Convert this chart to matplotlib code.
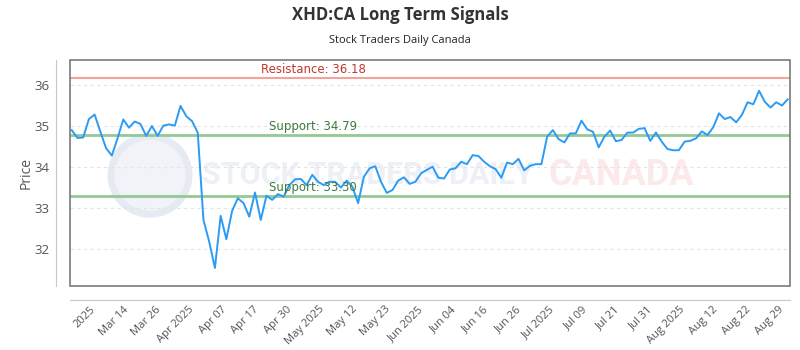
"""
XHD:CA long term signals - price line with support / resistance levels
"""

import numpy as np
import matplotlib
matplotlib.use("Agg")
import matplotlib.pyplot as plt
from matplotlib.patches import Rectangle, Ellipse

plt.rcParams["font.family"] = ["Open Sans", "DejaVu Sans"]

# ==============================
# DATA
# ==============================

prices = [
    34.90, 34.71, 34.72, 35.17, 35.28, 34.86, 34.46, 34.28, 34.70, 35.16,
    34.96, 35.11, 35.05, 34.76, 35.00, 34.76, 35.01, 35.04, 35.01, 35.49,
    35.24, 35.12, 34.84, 32.71, 32.18, 31.54, 32.81, 32.24, 32.93, 33.24,
    33.12, 32.79, 33.38, 32.71, 33.30, 33.20, 33.34, 33.28, 33.56, 33.70,
    33.71, 33.56, 33.81, 33.64, 33.56, 33.64, 33.64, 33.50, 33.67, 33.52,
    33.12, 33.76, 33.97, 34.02, 33.64, 33.37, 33.44, 33.67, 33.75, 33.59,
    33.64, 33.85, 33.93, 34.01, 33.74, 33.72, 33.94, 33.97, 34.13, 34.07,
    34.29, 34.27, 34.13, 34.02, 33.95, 33.74, 34.11, 34.07, 34.20, 33.92,
    34.03, 34.07, 34.07, 34.74, 34.90, 34.68, 34.60, 34.82, 34.82, 35.13,
    34.92, 34.86, 34.48, 34.74, 34.89, 34.63, 34.66, 34.84, 34.84, 34.93,
    34.95, 34.64, 34.84, 34.62, 34.44, 34.41, 34.41, 34.62, 34.64, 34.70,
    34.87, 34.78, 34.97, 35.31, 35.17, 35.22, 35.09, 35.27, 35.58, 35.53,
    35.86, 35.59, 35.45, 35.58, 35.50, 35.65,
]

tick_labels = [
    "2025", "Mar 14", "Mar 26", "Apr 2025", "Apr 07", "Apr 17", "Apr 30",
    "May 2025", "May 12", "May 23", "Jun 2025", "Jun 04", "Jun 16", "Jun 26",
    "Jul 2025", "Jul 09", "Jul 21", "Jul 31", "Aug 2025", "Aug 12", "Aug 22",
    "Aug 29",
]

resistance = 36.18
supports = [34.79, 33.30]

# ==============================
# PLOT
# ==============================

n = len(prices)
x = np.arange(n)

fig = plt.figure(figsize=(8, 3.5), dpi=100)
ax = fig.add_axes([70 / 800, 1 - 286 / 350, 720 / 800, 226 / 350])

# watermark (logo + text)
ax.add_patch(Ellipse((80 / 720, 0.49), 78 / 720, 78 / 226, transform=ax.transAxes,
                     facecolor="#f1f3f8", edgecolor="#e6eaf2", lw=5, zorder=0))
ax.text(0.183, 0.49, "STOCK TRADERS DAILY", transform=ax.transAxes, fontsize=22,
        color="#edf0f6", ha="left", va="center", zorder=0, family="Roboto",
        fontweight="bold")
ax.text(0.664, 0.49, "CANADA", transform=ax.transAxes, fontsize=26,
        color="#fce9e9", ha="left", va="center", zorder=0, family="Roboto",
        fontweight="bold")

ax.plot(x, prices, color="#2b9bf4", lw=1.4, zorder=3)

ax.axhline(resistance, color="#f4a29c", lw=1.5, zorder=2)
ax.text(0.265, resistance + 0.04, f"Resistance: {resistance:.2f}",
        transform=ax.get_yaxis_transform(), color="#c0392b", fontsize=8.5,
        ha="left", va="bottom", family="DejaVu Sans")
for s in supports:
    ax.axhline(s, color="#93c993", lw=2, zorder=2)
    ax.text(0.276, s + 0.04, f"Support: {s:.2f}",
            transform=ax.get_yaxis_transform(), color="#3d7a3d", fontsize=8.5,
            ha="left", va="bottom", family="DejaVu Sans")

ax.set_xlim(-0.3, n - 1 + 0.4)
ax.set_ylim(31.10, 36.61)

ax.set_yticks([32, 33, 34, 35, 36])
ax.yaxis.grid(True, color="#e4e4e4", ls=(0, (3, 3)), lw=0.8)
ax.set_axisbelow(True)

# outer offset axes lines
ax.spines["left"].set_position(("outward", 10))
ax.spines["bottom"].set_position(("outward", 10))
ax.spines["left"].set_color("#c8c8c8")
ax.spines["bottom"].set_color("#c8c8c8")
ax.spines["top"].set_visible(False)
ax.spines["right"].set_visible(False)

ax.tick_params(axis="y", length=0, pad=5, labelsize=9.5, labelcolor="#555555")
ax.tick_params(axis="x", length=0, pad=3, labelsize=8, labelcolor="#555555")

span = ax.get_xlim()
xt = span[0] + np.linspace(20 / 720, 708 / 720, len(tick_labels)) * (span[1] - span[0])
ax.set_xticks(xt)
ax.set_xticklabels(tick_labels)
plt.setp(ax.get_xticklabels(), rotation=45, ha="right", rotation_mode="anchor")

# inner frame
ax.add_patch(Rectangle((0, 0), 1, 1, transform=ax.transAxes, fill=False,
                       edgecolor="#7a7a7a", lw=1.2, zorder=5, clip_on=False))

ax.set_ylabel("Price", fontsize=10, color="#555555", labelpad=0)

fig.text(0.5, 1 - 15 / 350, "XHD:CA Long Term Signals", ha="center", va="center",
         fontsize=12, fontweight="bold", color="#333333")
fig.text(0.5, 1 - 40 / 350, "Stock Traders Daily Canada", ha="center", va="center",
         fontsize=8, color="#222222")

fig.savefig("out.png", dpi=100)
plt.close(fig)
